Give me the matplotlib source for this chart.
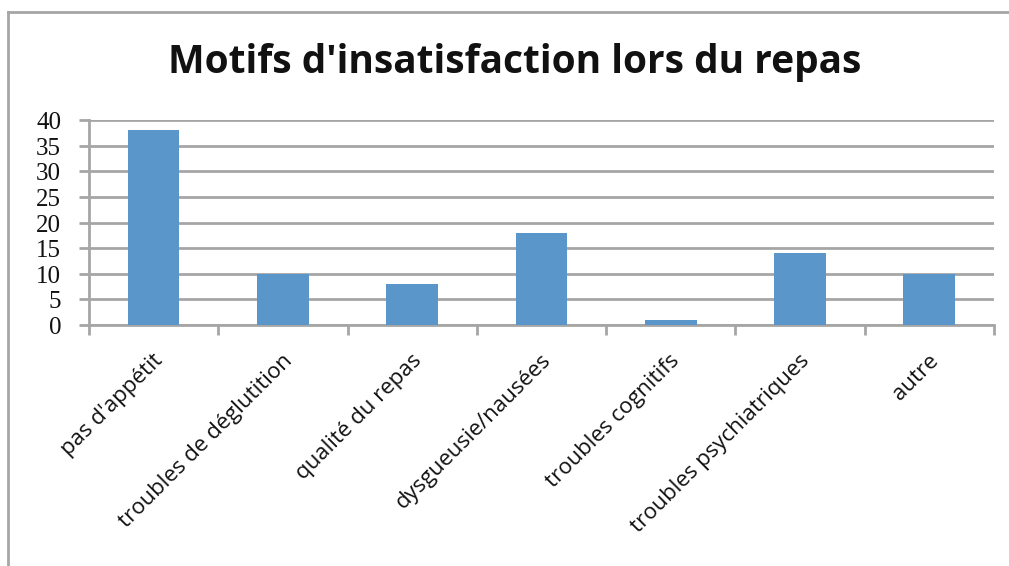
import matplotlib
matplotlib.use("Agg")
import matplotlib.pyplot as plt
import matplotlib.transforms as mtransforms
from matplotlib.lines import Line2D
import numpy as np

categories = ["pas d'appétit", "troubles de déglutition", "qualité du repas",
              "dysgueusie/nausées", "troubles cognitifs", "troubles psychiatriques", "autre"]
values = [38, 10, 8, 18, 1, 14, 10]
yticks = [0, 5, 10, 15, 20, 25, 30, 35, 40]
title = "Motifs d'insatisfaction lors du repas"

W, H = 1009, 566
fig = plt.figure(figsize=(W / 100, H / 100), dpi=100)
ax = fig.add_axes([89 / W, 1 - 325 / H, (994 - 89) / W, (325 - 120) / H])

grid_c = "#A6A6A6"
bar_c = "#5B96CB"

x = np.arange(len(categories))
ax.bar(x, values, width=0.4, color=bar_c, zorder=3)
ax.set_xlim(-0.5, len(categories) - 0.5)
ax.set_ylim(0, 40)
ax.set_yticks(yticks)
ax.set_yticklabels([str(v) for v in yticks], fontfamily="Liberation Serif", fontsize=18,
                   color="#111111")
ax.yaxis.grid(True, color=grid_c, linewidth=2, zorder=0)
ax.set_axisbelow(True)

ax.set_xticks(np.arange(len(categories) + 1) - 0.5, minor=False)
ax.set_xticklabels([])
ax.tick_params(axis="x", length=7, width=2, color=grid_c, direction="out")
ax.tick_params(axis="y", length=7, width=2, color=grid_c, direction="out", pad=13)
shift = mtransforms.ScaledTranslation(0, -3 / 100, fig.dpi_scale_trans)
for lab in ax.get_yticklabels():
    lab.set_verticalalignment("center")
    lab.set_transform(lab.get_transform() + shift)

for s in ["top", "right"]:
    ax.spines[s].set_visible(False)
for s in ["left", "bottom"]:
    ax.spines[s].set_color(grid_c)
    ax.spines[s].set_linewidth(2)

for xi, lab in zip(x, categories):
    ax.annotate(lab, xy=(xi, 0), xycoords=("data", "axes fraction"),
                xytext=(-1, -18), textcoords="offset points",
                rotation=45, ha="right", va="top", rotation_mode="anchor",
                fontfamily="Open Sans", fontsize=16, color="#111111")

fig.text(515 / W, 1 - 63 / H, title, ha="center", va="center",
         fontfamily="Open Sans", fontweight="bold", fontsize=28, color="#111111")

fig.add_artist(Line2D([8 / W, 8 / W], [0, 1 - 12 / H], transform=fig.transFigure,
                      color=grid_c, linewidth=2))
fig.add_artist(Line2D([8 / W, 1], [1 - 12 / H, 1 - 12 / H], transform=fig.transFigure,
                      color=grid_c, linewidth=2))

fig.savefig("out.png", dpi=100)
